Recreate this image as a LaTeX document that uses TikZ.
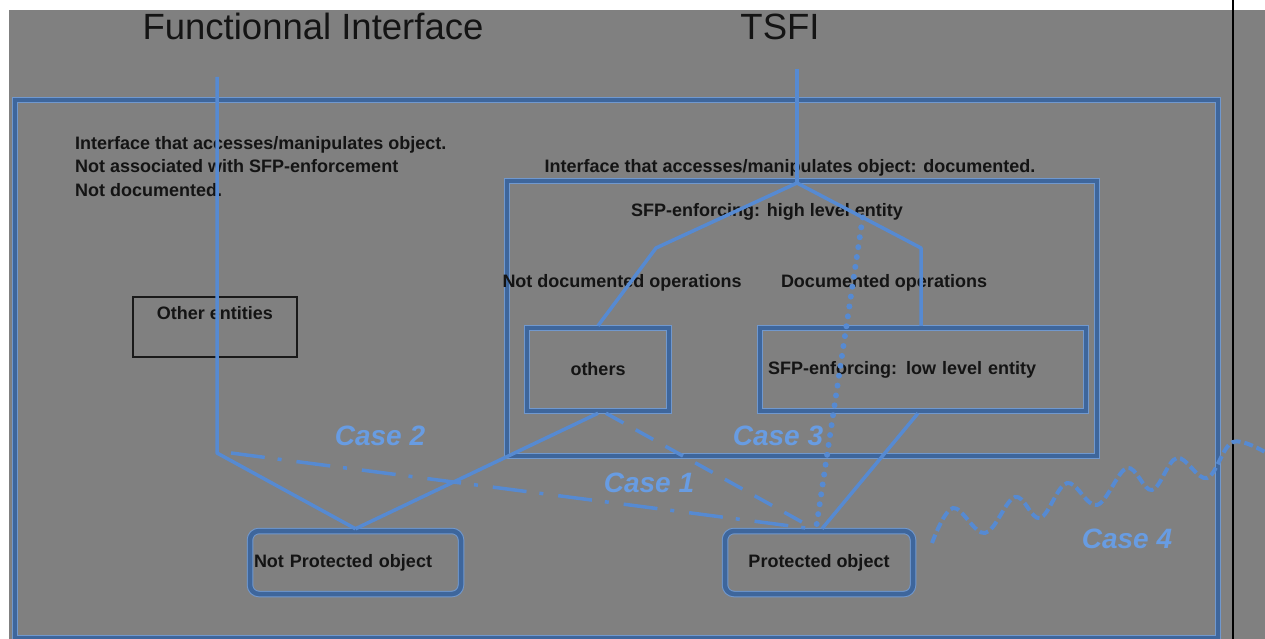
\documentclass[tikz,border=0pt]{standalone}
\usepackage{fontspec}
\setmainfont{Liberation Sans}
\usetikzlibrary{calc}
\definecolor{canvas}{RGB}{128,128,128}
\definecolor{rimdark}{RGB}{62,102,156}
\definecolor{rimlight}{RGB}{112,152,206}
\definecolor{linkblue}{RGB}{86,138,210}
\definecolor{ink}{RGB}{20,20,20}
\definecolor{caseblue}{RGB}{104,156,226}
\begin{document}
\begin{tikzpicture}[x=1pt,y=-1pt,
  rim/.style={draw=rimdark,line width=4.5pt,preaction={draw=rimlight,line width=6.5pt}},
  frame/.style={rim,inner sep=0pt},
  box/.style={rim,inner sep=0pt,font=\bfseries\fontsize{18}{22}\selectfont,text=ink},
  rbox/.style={box,rounded corners=9pt},
  link/.style={draw=linkblue,line width=3.5pt},
  casedash/.style={link,dash pattern=on 20pt off 14pt},
  casedashdot/.style={link,dash pattern=on 34pt off 13pt on 4pt off 15pt},
  casedots/.style={link,line width=6pt,line cap=round,dash pattern=on 0pt off 10pt},
  wavy/.style={link,line width=4pt,dash pattern=on 9pt off 4pt},
  note/.style={font=\bfseries\fontsize{18}{23.5}\selectfont,text=ink,inner sep=0pt},
  heading/.style={font=\fontsize{36.5}{40}\selectfont,text=ink,inner sep=0pt,anchor=base},
  caselabel/.style={font=\bfseries\itshape\fontsize{28}{30}\selectfont,text=caseblue,inner sep=0pt,anchor=base}
]
\useasboundingbox (0,0) rectangle (1265,639);
% canvas and page edge
\fill[canvas] (9,10) rectangle (1265,639);
\draw[black,line width=2.5pt] (1233,0) -- (1233,639);

% headings
\node[heading] (fi) at (313,40) {Functionnal Interface};
\node[heading] (tsfi) at (780,40) {TSFI};

% containers
\node[frame,minimum width=1203pt,minimum height=538pt] (outer) at (616.5,369) {};
\node[frame,minimum width=590pt,minimum height=275pt] (inner) at (802,318.5) {};

% entities
\node[draw=black!90,line width=2.5pt,inner sep=0pt,minimum width=164pt,minimum height=60pt,
      text height=22pt,text depth=38pt,font=\bfseries\fontsize{18}{22}\selectfont,text=ink]
      (ent) at (215,327) {Other entities};
\node[box,minimum width=142pt,minimum height=83pt] (oth) at (598,369.5) {others};
\node[box,minimum width=326pt,minimum height=83pt,text width=310pt,align=left,inner xsep=8pt]
      (low) at (923,369.5) {SFP-enforcing: low level entity};
\node[rbox,minimum width=211pt,minimum height=63pt,text width=203pt,align=left,inner xsep=4pt]
      (np) at (355.5,562.5) {Not Protected object};
\node[rbox,minimum width=188pt,minimum height=63pt] (pr) at (819,562.5) {Protected object};

% texts
\node[note,anchor=north west,align=left] (fitext) at (75,136)
  {Interface that accesses/manipulates object.\\Not associated with SFP-enforcement\\Not documented.};
\node[note,anchor=base] (doctext) at (790,172) {Interface that accesses/manipulates object: documented.};
\node[note,anchor=base] (hl) at (767,216.5) {SFP-enforcing: high level entity};
\node[note,anchor=base] (ndop) at (622,287.5) {Not documented operations};
\node[note,anchor=base] (dop) at (884,287.5) {Documented operations};

% interface lines
\coordinate (fiTop) at (217,77);
\coordinate (fiBend) at (217,453);
\coordinate (tsTop) at (797,69);
\coordinate (split) at (797,183);
\coordinate (lbend) at (656,248);
\coordinate (rbend) at (921,248);
\draw[link,line join=round] (fiTop) -- (fiBend) -- (np.north);
\draw[link] (tsTop) -- (split);
\draw[link,line join=round] (split) -- (lbend) -- (oth.north);
\draw[link,line join=round] (split) -- (rbend) -- (rbend |- low.north);
\draw[link] (oth.south) -- (np.north);
\draw[link] ([xshift=-5pt]low.south) -- ([xshift=3pt]pr.north);

% cases
\draw[casedash] ([xshift=8pt]oth.south) -- ([xshift=-5pt]pr.north);
\draw[casedashdot] ([xshift=14pt]fiBend) -- ([xshift=-7pt]pr.north);
\draw[casedots] ($(split)!0.53!(rbend)$) -- ([xshift=-3pt]pr.north);
\draw[wavy] plot[smooth,tension=0.6] coordinates
  {(932,543) (953,508) (985,533) (1015,497) (1040,518) (1067,483) (1097,505)
   (1127,468) (1152,490) (1177,458) (1207,478) (1233,442) (1270,455)};

\node[caselabel] (c2) at (380,445) {Case 2};
\node[caselabel] (c3) at (778,445) {Case 3};
\node[caselabel] (c1) at (649,492) {Case 1};
\node[caselabel] (c4) at (1127,548) {Case 4};
\end{tikzpicture}
\end{document}
